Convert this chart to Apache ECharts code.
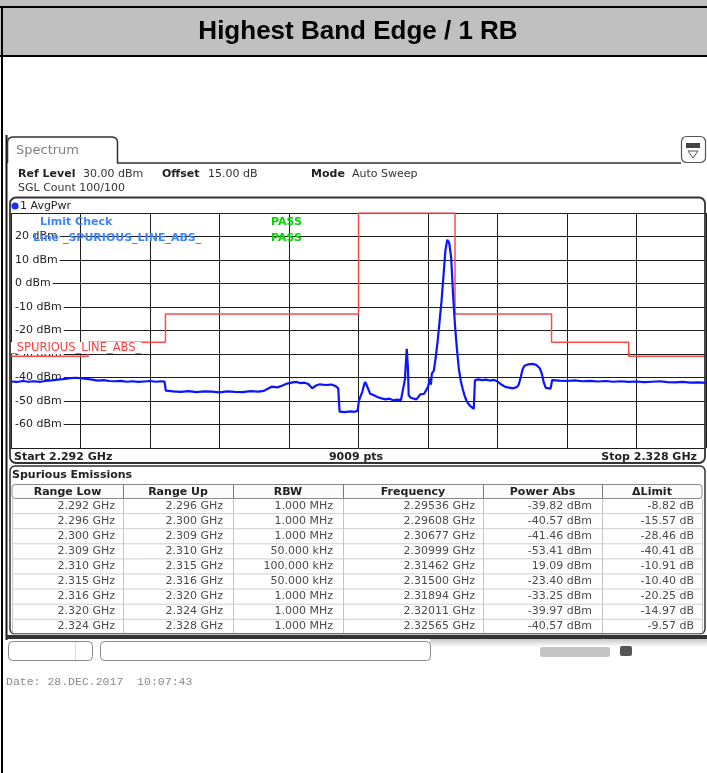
<!DOCTYPE html>
<html><head><meta charset="utf-8">
<script src="https://cdn.jsdelivr.net/npm/echarts@6/dist/echarts.min.js"></script>
<style>html,body{margin:0;padding:0;background:#fff}#c{width:707px;height:773px}</style>
</head><body><div id="c"></div>
<script>
// ---------- text content ----------
const titleText = 'Highest Band Edge / 1 RB';
const startGHz = 2.292;
const stopGHz = 2.328;
const sweepPoints = 9009;
const refLevel = '30.00 dBm';
const offsetText = '15.00 dB';
const modeText = 'Auto Sweep';
const sglCount = '100/100';
const dateText = 'Date: 28.DEC.2017  10:07:43';
const limitLineName = 'SPURIOUS_LINE_ABS_';

// ---------- y axis ----------
const yMin = -70;
const yMax = 30;
const yStep = 10;
const yLabelValues = [20, 10, 0, -10, -20, -30, -40, -50, -60];

// ---------- limit line (per range) ----------
const limitRangeLow = [2.292, 2.296, 2.300, 2.309, 2.310, 2.315, 2.316, 2.320, 2.324];
const limitRangeUp  = [2.296, 2.300, 2.309, 2.310, 2.315, 2.316, 2.320, 2.324, 2.328];
const limitLevel    = [-31, -25, -13, -13, 30, -13, -13, -25, -31];

const traceFreq = [
 2.2920,2.2923,2.2926,2.2929,2.2932,2.2935,2.2938,2.2941,2.2944,2.2947,2.2950,2.2953,2.2956,2.2959,2.2962,2.2965,2.2968,2.2971,2.2974,2.2977,2.2980,2.2983,2.2986,2.2989,2.2992,2.2995,2.2998,2.29995,
 2.30002,2.3004,2.3008,2.3012,2.3016,2.3020,2.3024,2.3028,2.3032,2.3036,2.3040,2.3044,2.3048,2.3051,2.3053,2.3055,2.3058,2.3061,2.3063,2.3066,2.3068,2.3070,2.3072,2.3074,2.3076,2.3078,2.3080,2.3083,2.3086,2.3088,2.30895,
 2.30902,2.3093,2.3096,2.3098,2.30995,
 2.31003,2.3101,2.3102,2.3103,2.31035,2.3104,2.3105,2.3106,2.3107,2.3108,2.3109,2.3110,2.3112,2.3114,2.3116,2.3118,2.3120,2.3122,2.3123,2.3124,2.3125,2.31256,2.3126,2.3127,2.3128,2.3130,2.3131,2.3132,2.3134,2.3135,2.3136,2.3137,2.31375,2.3138,2.3139,2.3140,2.3141,2.3142,2.3143,2.3144,2.3145,2.3146,2.31465,2.3147,2.3148,2.3149,2.3150,2.3151,2.3152,2.3153,2.3154,2.3155,2.3156,2.3157,2.3158,2.3159,2.31597,
 2.31603,2.3162,2.3164,2.3166,2.3168,2.3170,2.3172,2.3174,2.3176,2.3178,2.3180,2.3182,2.3183,2.3184,2.3185,2.3186,2.3188,2.3190,2.3192,2.3193,2.3194,2.3195,2.3196,2.3197,2.3198,2.31995,
 2.32003,2.3204,2.3208,2.3212,2.3216,2.3220,2.3224,2.3228,2.3232,2.3236,2.3240,2.3244,2.3248,2.3252,2.3256,2.3260,2.3264,2.3268,2.3272,2.3276,2.3280
];
const traceDbm = [
 -41.7,-41.9,-41.5,-41.8,-41.6,-41.9,-41.4,-41.2,-40.9,-40.7,-40.4,-40.1,-40.3,-40.6,-40.9,-41.3,-41.1,-41.5,-41.6,-41.4,-41.8,-41.6,-41.9,-41.7,-41.5,-41.8,-41.6,-41.7,
 -45.6,-45.9,-46.1,-45.8,-46.2,-45.9,-46.0,-46.3,-45.9,-46.1,-46.2,-45.8,-46.0,-45.7,-44.8,-43.9,-44.2,-43.3,-42.6,-42.1,-41.9,-42.4,-42.2,-42.8,-44.6,-43.4,-42.9,-43.2,-43.0,-43.6,-44.6,
 -54.5,-54.7,-54.4,-54.6,-54.2,
 -49.6,-48.8,-46.0,-42.8,-41.9,-42.6,-44.8,-46.9,-46.2,-47.6,-47.3,-48.4,-48.9,-49.3,-49.0,-49.7,-49.4,-49.6,-48.8,-41.0,-27.8,-36.0,-47.5,-48.6,-48.2,-49.3,-48.7,-47.2,-46.9,-46.5,-44.0,-40.5,-43.0,-38.3,-37.2,-31.5,-24.5,-16.0,-7.5,3.0,14.0,18.6,18.9,17.2,11.0,-5.0,-18.0,-28.0,-36.5,-41.5,-45.0,-47.8,-50.0,-51.3,-52.2,-52.9,-53.4,
 -41.2,-40.8,-41.1,-40.9,-41.3,-41.0,-41.7,-43.0,-44.0,-44.3,-44.6,-44.1,-43.0,-40.0,-36.5,-35.0,-34.4,-34.2,-34.6,-34.9,-36.2,-38.5,-42.2,-44.4,-45.0,-44.7,
 -41.1,-41.3,-41.5,-41.2,-41.6,-41.4,-41.7,-41.5,-41.8,-41.6,-41.9,-41.7,-42.0,-41.8,-41.6,-42.0,-42.1,-41.9,-42.2,-42.1,-42.3
];

// ---------- spurious emissions table ----------
const tableHeaders = ['Range Low', 'Range Up', 'RBW', 'Frequency', 'Power Abs', '\u0394Limit'];
const colRangeLow = ['2.292 GHz','2.296 GHz','2.300 GHz','2.309 GHz','2.310 GHz','2.315 GHz','2.316 GHz','2.320 GHz','2.324 GHz'];
const colRangeUp  = ['2.296 GHz','2.300 GHz','2.309 GHz','2.310 GHz','2.315 GHz','2.316 GHz','2.320 GHz','2.324 GHz','2.328 GHz'];
const colRbw      = ['1.000 MHz','1.000 MHz','1.000 MHz','50.000 kHz','100.000 kHz','50.000 kHz','1.000 MHz','1.000 MHz','1.000 MHz'];
const colFreq     = ['2.29536 GHz','2.29608 GHz','2.30677 GHz','2.30999 GHz','2.31462 GHz','2.31500 GHz','2.31894 GHz','2.32011 GHz','2.32565 GHz'];
const colPower    = ['-39.82 dBm','-40.57 dBm','-41.46 dBm','-53.41 dBm','19.09 dBm','-23.40 dBm','-33.25 dBm','-39.97 dBm','-40.57 dBm'];
const colDelta    = ['-8.82 dB','-15.57 dB','-28.46 dB','-40.41 dB','-10.91 dB','-10.40 dB','-20.25 dB','-14.97 dB','-9.57 dB'];

// ---------- build ----------
const FONT = '"DejaVu Sans", Verdana, sans-serif';
const traceData = traceFreq.map((f, i) => [f, traceDbm[i]]);
const limitData = [];
limitRangeLow.forEach((lo, i) => { limitData.push([lo, limitLevel[i]]); limitData.push([limitRangeUp[i], limitLevel[i]]); });

function txt(text, x, y, opt) {
  opt = opt || {};
  const st = {
    text: text, x: x, y: y,
    font: (opt.weight || 'normal') + ' ' + (opt.size || 11) + 'px ' + (opt.family || FONT),
    fill: opt.fill || '#222',
    textAlign: opt.align || 'left',
    textVerticalAlign: 'middle'
  };
  if (opt.bg) { st.backgroundColor = opt.bg; st.padding = opt.pad || [0, 1]; }
  return { type: 'text', z: opt.z || 20, silent: true, style: st };
}
function rect(x, y, w, h, style, r, z) {
  return { type: 'rect', z: z || 5, silent: true, shape: { x: x, y: y, width: w, height: h, r: r || 0 }, style: style };
}
function line(x1, y1, x2, y2, stroke, lw, z) {
  return { type: 'line', z: z || 6, silent: true, shape: { x1: x1, y1: y1, x2: x2, y2: y2 }, style: { stroke: stroke, lineWidth: lw || 1 } };
}

const g = [];
// title bar
g.push(rect(0, 0, 707, 56, { fill: '#c0c0c0' }, 0, 1));
g.push(rect(0, 6, 707, 2, { fill: '#000' }, 0, 2));
g.push(rect(0, 55, 707, 2, { fill: '#000' }, 0, 2));
g.push(rect(1, 6, 2, 767, { fill: '#000' }, 0, 2));
g.push(txt(titleText, 358, 32, { size: 26, weight: 'bold', family: '"Liberation Sans", Arial, sans-serif', fill: '#000', align: 'center' }));

// instrument panel
g.push(rect(5.5, 135, 2, 505, { fill: '#1a1a1a' }, 0, 2));
g.push({ type: 'polyline', z: 6, silent: true,
  shape: { points: [[7.5,163],[7.5,142],[8.2,139.2],[10,137.7],[12.5,137],[112.5,137],[115,137.7],[116.8,139.2],[117.5,142],[117.5,163],[681,163]] },
  style: { stroke: '#333', lineWidth: 1.5, fill: null } });
g.push(txt('Spectrum', 16, 151, { size: 13, fill: '#808080' }));
g.push(rect(681.5, 136.5, 24, 26, { stroke: '#555', lineWidth: 1.2, fill: '#fff' }, 5, 6));
g.push(rect(686, 143, 14, 5, { fill: '#444' }, 0, 7));
g.push({ type: 'polygon', z: 7, silent: true, shape: { points: [[688, 151], [698, 151], [693, 158]] }, style: { stroke: '#555', fill: '#fff', lineWidth: 1 } });

g.push(txt('Ref Level', 18, 174, { weight: 'bold' }));
g.push(txt(refLevel, 83, 174, { fill: '#333' }));
g.push(txt('Offset', 162, 174, { weight: 'bold' }));
g.push(txt(offsetText, 208, 174, { fill: '#333' }));
g.push(txt('Mode', 311, 174, { weight: 'bold' }));
g.push(txt(modeText, 352, 174, { fill: '#333' }));
g.push(txt('SGL Count ' + sglCount, 18, 188, { fill: '#333' }));

// diagram frame
g.push(rect(10, 197.5, 695, 265.5, { stroke: '#333', lineWidth: 1.8, fill: null }, 6, 3));
g.push({ type: 'circle', z: 20, silent: true, shape: { cx: 15, cy: 206, r: 3.6 }, style: { fill: '#1a2cff' } });
g.push(txt('1 AvgPwr', 20, 206, { fill: '#222' }));
g.push(txt('Limit Check', 40, 222, { weight: 'bold', fill: '#3d86ff' }));
g.push(txt('PASS', 271, 222, { weight: 'bold', fill: '#00d800' }));
g.push(txt('Line _' + limitLineName, 33, 238, { weight: 'bold', fill: '#3d86ff' }));
g.push(txt('PASS', 271, 238, { weight: 'bold', fill: '#00d800' }));
g.push(txt('_' + limitLineName, 11, 348, { size: 11.5, fill: '#ff4040', bg: '#fff', pad: [0, 0] }));
g.push(txt('Start ' + startGHz.toFixed(3) + ' GHz', 14, 457, { weight: 'bold' }));
g.push(txt(sweepPoints + ' pts', 356, 457, { weight: 'bold', align: 'center' }));
g.push(txt('Stop ' + stopGHz.toFixed(3) + ' GHz', 697, 457, { weight: 'bold', align: 'right' }));

// table panel
g.push(rect(10, 466, 695, 168, { stroke: '#333', lineWidth: 1.5, fill: null }, 5, 3));
g.push(txt('Spurious Emissions', 12, 475, { weight: 'bold' }));
const colEdges = [12, 123, 233, 343, 483, 602, 702];
const colRight = [115, 223, 333, 475, 592, 694];
const rowTop = 498.5, rowH = 15.1;
g.push(rect(12, 484.5, 690, 14, { stroke: '#8a8a8a', lineWidth: 1, fill: '#fbfbfb' }, 3, 4));
for (let k = 1; k <= 9; k++) g.push(line(12, rowTop + rowH * k, 702, rowTop + rowH * k, '#d0d0d0', 1, 4));
for (let c = 1; c < colEdges.length - 1; c++) {
  g.push(line(colEdges[c] + 0.5, 485, colEdges[c] + 0.5, 498, '#777', 1, 5));
  g.push(line(colEdges[c] + 0.5, 499, colEdges[c] + 0.5, 633, '#c4c4c4', 1, 5));
}
g.push(line(12.5, 499, 12.5, 633, '#c4c4c4', 1, 5));
g.push(line(702.5, 499, 702.5, 633, '#c4c4c4', 1, 5));
tableHeaders.forEach((h, c) => g.push(txt(h, (colEdges[c] + colEdges[c + 1]) / 2, 492, { weight: 'bold', align: 'center' })));
const cols = [colRangeLow, colRangeUp, colRbw, colFreq, colPower, colDelta];
cols.forEach((col, c) => col.forEach((v, r) => g.push(txt(v, colRight[c], rowTop + rowH * r + 7.3, { fill: '#4a4a4a', align: 'right' }))));
g.push(rect(6, 635, 701, 4, { fill: '#333' }, 0, 4));

// status bar
g.push(rect(430, 639, 277, 8, { fill: { type: 'linear', x: 0, y: 0, x2: 0, y2: 1, colorStops: [{ offset: 0, color: '#c8c8c8' }, { offset: 1, color: '#fff' }] } }, 0, 3));
g.push(rect(8.5, 641.5, 84, 19, { stroke: '#888', lineWidth: 1, fill: '#fff' }, 4, 4));
g.push(line(75.5, 642, 75.5, 660, '#ddd', 1, 5));
g.push(rect(100.5, 641.5, 330, 19, { stroke: '#888', lineWidth: 1, fill: '#fff' }, 4, 4));
g.push(rect(540, 647, 70, 10, { fill: '#c4c4c4' }, 2, 4));
g.push(rect(620, 646, 12, 10, { fill: '#555' }, 2, 4));
g.push(txt(dateText, 6, 682, { size: 11.5, family: '"Liberation Mono", "DejaVu Sans Mono", monospace', fill: '#8a8a8a' }));

const chart = echarts.init(document.getElementById('c'), null, { renderer: 'canvas' });
chart.setOption({
  animation: false,
  backgroundColor: '#fff',
  grid: { left: 11, top: 213, width: 695, height: 235, containLabel: false },
  xAxis: [
    { type: 'value', min: startGHz, max: stopGHz, show: false },
    { type: 'value', min: 0, max: 10, interval: 1, show: true, z: 0,
      axisLine: { show: false }, axisTick: { show: false }, axisLabel: { show: false },
      splitLine: { show: true, lineStyle: { color: '#1e1e1e', width: 1 } } }
  ],
  yAxis: [
    { type: 'value', min: yMin, max: yMax, interval: yStep, z: 1,
      axisLine: { show: false }, axisTick: { show: false }, splitLine: { show: false },
      axisLabel: { inside: true, margin: 1, fontSize: 11, fontFamily: 'DejaVu Sans', color: '#222',
        backgroundColor: '#fff', padding: [0, 2, 0, 3],
        formatter: v => yLabelValues.indexOf(v) >= 0 ? v + ' dBm' : '' } },
    { type: 'value', min: yMin, max: yMax, interval: yStep, z: 0,
      axisLine: { show: false }, axisTick: { show: false }, axisLabel: { show: false },
      splitLine: { show: true, lineStyle: { color: '#1e1e1e', width: 1 } } }
  ],
  series: [
    { name: 'Limit', type: 'line', xAxisIndex: 0, yAxisIndex: 0, data: limitData, showSymbol: false, z: 2,
      lineStyle: { color: '#ff4a4a', width: 1.5 }, silent: true },
    { name: '1 AvgPwr', type: 'line', xAxisIndex: 0, yAxisIndex: 0, data: traceData, showSymbol: false, z: 3,
      lineStyle: { color: '#0a14ff', width: 2.2 }, silent: true }
  ],
  graphic: { elements: g }
});
</script></body></html>
